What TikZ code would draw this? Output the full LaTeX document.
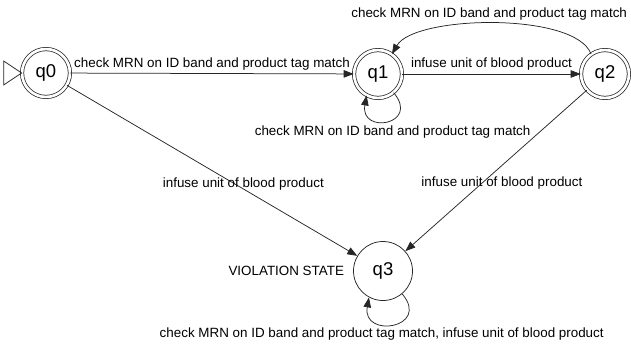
\documentclass[tikz,border=0pt]{standalone}
\usepackage{fontspec}
\setmainfont{Liberation Sans}
\usetikzlibrary{arrows.meta}
\begin{document}
\begin{tikzpicture}[x=1pt,y=1pt,
  ln/.style={draw=black!85,line width=0.75pt},
  dstate/.style={circle,draw=black!85,double,double distance=2.6pt,line width=0.75pt,minimum size=47.9pt,inner sep=0pt,font=\fontsize{18.5}{20}\selectfont},
  sstate/.style={circle,draw=black!85,line width=0.75pt,minimum size=59pt,inner sep=0pt,font=\fontsize{18.5}{20}\selectfont},
  lab/.style={font=\fontsize{13.4}{15}\selectfont,inner sep=3pt,draw=none},
  arr/.style={ln,-{Triangle[length=10pt,width=7.5pt]}}]
\useasboundingbox (0,0) rectangle (631,-345);
\node[dstate] (q0) at (46,-73) {q0};
\node[dstate] (q1) at (378,-74) {q1};
\node[dstate] (q2) at (605,-74) {q2};
\node[sstate] (q3) at (383,-271) {q3};
\draw[ln] (q0.west) -- ++(-18,12) -- ++(0,-24) -- cycle;
\draw[arr] (q0) -- node[lab,above] {check MRN on ID band and product tag match} (q1);
\draw[arr] (q1) -- node[lab,above] {infuse unit of blood product} (q2);
\draw[arr] (q2.125) .. controls +(110:45) and +(60:45) .. node[lab,above,xshift=-5pt] {check MRN on ID band and product tag match} (q1.55);
\draw[arr] (q1.-50) .. controls +(-50:42) and +(-100:40) .. node[lab,below,xshift=5pt,yshift=-2pt] {check MRN on ID band and product tag match} (q1.-118);
\draw[arr] (q0) -- node[lab,pos=0.58,xshift=8pt] {infuse unit of blood product} (q3);
\draw[arr] (q2) -- node[lab,pos=0.578,xshift=20pt] {infuse unit of blood product} (q3);
\draw[arr] (q3.-50) .. controls +(-50:45) and +(-100:42) .. node[lab,below,xshift=-12pt] {check MRN on ID band and product tag match, infuse unit of blood product} (q3.-118);
\node[lab,anchor=east] (v) at ([xshift=-6pt]q3.west) {VIOLATION STATE};
\end{tikzpicture}
\end{document}
